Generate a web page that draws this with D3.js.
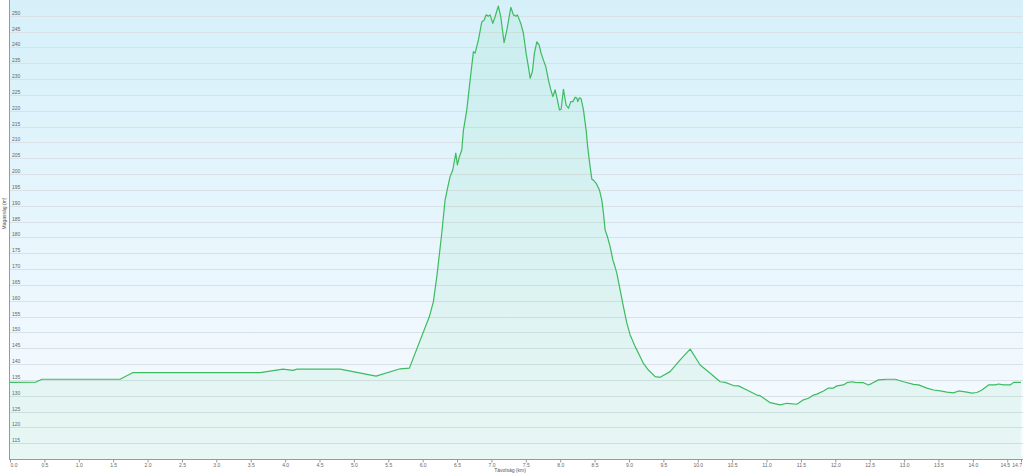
<!DOCTYPE html>
<html>
<head>
<meta charset="utf-8">
<script src="https://d3js.org/d3.v7.min.js"></script>
<style>
  body { margin: 0; background: #ffffff; }
  .chart { width: 1023px; height: 474px; }
</style>
</head>
<body>
<div class="chart"></div>
<script>
// Elevation profile - distance (km) vs height (m)

// distance along the track, km
var distKm = [
  0, 0.378, 0.465, 1.600, 1.789, 3.636, 3.970, 4.116, 4.174, 4.799,
  5.323, 5.672, 5.807, 6.098, 6.156, 6.206, 6.278, 6.326, 6.366, 6.399,
  6.438, 6.482, 6.505, 6.534, 6.569, 6.593, 6.642, 6.690, 6.738, 6.763,
  6.811, 6.860, 6.894, 6.923, 6.956, 6.981, 7.020, 7.053, 7.101, 7.136,
  7.184, 7.224, 7.282, 7.320, 7.359, 7.378, 7.427, 7.465, 7.504, 7.538,
  7.563, 7.596, 7.625, 7.660, 7.693, 7.722, 7.756, 7.791, 7.829, 7.864,
  7.893, 7.926, 7.960, 7.989, 8.013, 8.047, 8.086, 8.120, 8.154, 8.184,
  8.217, 8.242, 8.256, 8.280, 8.304, 8.338, 8.377, 8.400, 8.435, 8.460,
  8.483, 8.523, 8.570, 8.605, 8.629, 8.653, 8.687, 8.726, 8.765, 8.789,
  8.823, 8.861, 8.919, 8.969, 9.017, 9.090, 9.163, 9.210, 9.283, 9.380,
  9.453, 9.598, 9.744, 9.890, 10.035, 10.181, 10.326, 10.399, 10.519, 10.592,
  10.714, 10.860, 10.907, 11.053, 11.198, 11.296, 11.441, 11.537, 11.610, 11.683,
  11.732, 11.828, 11.901, 11.973, 12.023, 12.119, 12.168, 12.241, 12.289, 12.362,
  12.410, 12.482, 12.532, 12.628, 12.750, 12.871, 12.991, 13.137, 13.210, 13.332,
  13.428, 13.525, 13.623, 13.719, 13.792, 13.913, 13.986, 14.059, 14.132, 14.228,
  14.325, 14.373, 14.446, 14.543, 14.592, 14.7
];

// height above sea level, m
var heightM = [
  134.2, 134.3, 135.2, 135.2, 137.3, 137.3, 138.4, 138.0, 138.4, 138.4,
  136.2, 138.5, 138.7, 155.0, 159.7, 167.6, 181.3, 191.8, 196.0, 199.2,
  201.3, 206.6, 202.9, 205.5, 207.6, 213.9, 220.3, 229.7, 238.7, 238.2,
  242.4, 248.1, 248.7, 250.3, 249.9, 250.3, 247.6, 249.7, 253.1, 249.7,
  241.5, 245.5, 252.7, 250.3, 249.9, 250.3, 247.6, 244.5, 238.2, 233.9,
  230.3, 232.4, 238.2, 241.8, 240.8, 238.2, 236.0, 233.9, 229.7, 226.6,
  224.5, 226.6, 223.4, 220.3, 220.5, 226.8, 221.8, 220.8, 222.9, 222.9,
  224.3, 224.0, 222.9, 224.1, 223.8, 220.3, 213.9, 208.5, 202.3, 198.4,
  198.1, 197.1, 195.0, 191.8, 187.6, 182.4, 180.2, 177.1, 172.9, 171.3,
  168.7, 164.5, 158.1, 152.9, 149.2, 145.5, 142.3, 140.2, 138.1, 136.0,
  135.8, 137.6, 141.3, 144.7, 139.7, 137.1, 134.4, 134.2, 133.2, 133.1,
  131.8, 130.2, 130.0, 127.8, 127.1, 127.6, 127.3, 128.7, 129.2, 130.2,
  130.5, 131.5, 132.4, 132.4, 133.1, 133.4, 134.1, 134.4, 134.2, 134.1,
  134.1, 133.4, 133.9, 135.0, 135.2, 135.2, 134.4, 133.6, 133.4, 132.4,
  131.8, 131.5, 131.1, 130.9, 131.5, 131.1, 130.8, 131.0, 131.8, 133.4,
  133.4, 133.7, 133.4, 133.4, 134.2, 134.2
];

// axis ticks
var yTicks = d3.range(115, 251, 5);
var xTicks = d3.range(0, 14.51, 0.5).concat([14.7]);

var yTitle = "Magasság (m)";
var xTitle = "Távolság (km)";

var profile = distKm.map(function(d, i) { return { km: d, m: heightM[i] }; });

// Graph set up
//*****************************************************
var svgWidth = 1023;
var svgHeight = 474;

var plotLeft = 9;
var plotRight = 1023;
var plotTop = 0;
var plotBottom = 459;

var labelFont = "Liberation Sans";

var svg = d3.select(".chart")
  .append("svg")
  .attr("width", svgWidth)
  .attr("height", svgHeight);

var defs = svg.append("defs");

// background: light blue at top fading to near white
var bgGrad = defs.append("linearGradient")
  .attr("id", "bgGrad")
  .attr("x1", 0).attr("y1", 0).attr("x2", 0).attr("y2", 1);
bgGrad.append("stop").attr("offset", "0%").attr("stop-color", "#d6f0fa");
bgGrad.append("stop").attr("offset", "100%").attr("stop-color", "#f8fbff");

// scales
var xScale = d3.scaleLinear()
  .domain([0, 14.7])
  .range([10, 1021]);

var yScale = d3.scaleLinear()
  .domain([110, 255])
  .range([plotBottom, plotTop]);

svg.append("rect")
  .attr("x", plotLeft)
  .attr("y", plotTop)
  .attr("width", plotRight - plotLeft)
  .attr("height", plotBottom - plotTop)
  .attr("fill", "url(#bgGrad)");

// horizontal grid + labels sitting inside the plot
var grid = svg.append("g");
grid.selectAll("line")
  .data(yTicks)
  .enter()
  .append("line")
  .attr("x1", plotLeft)
  .attr("x2", plotRight)
  .attr("y1", d => Math.round(yScale(d)) + 0.5)
  .attr("y2", d => Math.round(yScale(d)) + 0.5)
  .attr("stroke", "#d9e1e6")
  .attr("stroke-width", 1);

// area + line
var areaGen = d3.area()
  .x(d => xScale(d.km))
  .y0(yScale(110))
  .y1(d => yScale(d.m));

var lineGen = d3.line()
  .x(d => xScale(d.km))
  .y(d => yScale(d.m));

svg.append("path")
  .datum(profile)
  .attr("d", areaGen)
  .attr("fill", "#2ecc71")
  .attr("fill-opacity", 0.08);

svg.append("path")
  .datum(profile)
  .attr("d", lineGen)
  .attr("fill", "none")
  .attr("stroke", "#3dbb5f")
  .attr("stroke-width", 1.2)
  .attr("stroke-linejoin", "round");

grid.selectAll("text")
  .data(yTicks)
  .enter()
  .append("text")
  .attr("x", 12)
  .attr("y", d => Math.round(yScale(d)) - 1.5)
  .attr("font-family", labelFont)
  .attr("font-size", "5px")
  .attr("fill", "#666")
  .text(d => d);

// axes
var bottomAxis = d3.axisBottom(xScale)
  .tickValues(xTicks)
  .tickSize(3)
  .tickFormat(d => d.toFixed(1));

var xAxisG = svg.append("g")
  .attr("transform", `translate(0, ${plotBottom + 0.5})`)
  .call(bottomAxis);

xAxisG.select(".domain")
  .attr("d", `M${plotLeft},0H${plotRight}`)
  .attr("stroke", "#999");
xAxisG.selectAll(".tick line").attr("stroke", "#999");
// last two labels are squeezed apart so they don't collide
xAxisG.selectAll(".tick text")
  .attr("y", 3.5)
  .attr("dx", d => d == 14.7 ? 0.5 : (d == 14.5 ? -2.5 : 0))
  .attr("font-family", labelFont)
  .attr("font-size", "5px")
  .attr("fill", "#666")
  .attr("text-anchor", (d, i) => i == 0 ? "start" : (d == 14.7 ? "end" : "middle"));

// left axis line
svg.append("line")
  .attr("x1", plotLeft + 0.5)
  .attr("x2", plotLeft + 0.5)
  .attr("y1", plotTop)
  .attr("y2", plotBottom)
  .attr("stroke", "#999");

// axis titles
svg.append("text")
  .attr("transform", `translate(6, ${(plotTop + plotBottom) / 2 - 16}) rotate(-90)`)
  .attr("text-anchor", "middle")
  .attr("font-family", labelFont)
  .attr("font-size", "5px")
  .attr("fill", "#555")
  .text(yTitle);

svg.append("text")
  .attr("x", 510)
  .attr("y", 472)
  .attr("text-anchor", "middle")
  .attr("font-family", labelFont)
  .attr("font-size", "5px")
  .attr("fill", "#555")
  .text(xTitle);
</script>
</body>
</html>
